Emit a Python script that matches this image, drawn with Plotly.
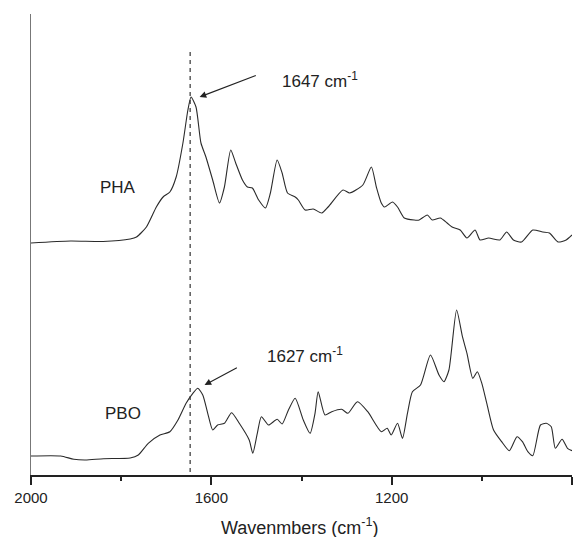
import plotly.graph_objects as go

# PHA spectrum (upper trace) – wavenumber (cm-1) and intensity (a.u.)
pha_wn = [2000, 1912, 1840, 1780, 1766, 1744, 1722, 1707, 1692, 1678, 1663, 1652, 1645,
          1634, 1623, 1612, 1597, 1582, 1571, 1557, 1546, 1531, 1520, 1509, 1495, 1480,
          1469, 1454, 1443, 1431, 1414, 1407, 1392, 1374, 1355, 1341, 1308, 1293, 1264,
          1245, 1234, 1223, 1216, 1198, 1187, 1172, 1150, 1139, 1121, 1110, 1092, 1077,
          1066, 1048, 1033, 1015, 1004, 985, 960, 945, 930, 912, 887, 865, 850, 831, 813, 800]
pha_int = [232, 234, 233.5, 236, 238, 248, 268, 278, 283, 298, 332, 365, 378,
           368, 332, 318, 295, 272, 288, 325, 312, 295, 288, 287, 275, 267,
           282, 315, 302, 282, 278, 275, 265, 266, 262, 268, 285, 282, 290,
           308, 288, 272, 268, 273, 268, 257, 255, 255, 260, 255, 257, 252,
           248, 245, 237, 245, 235, 237, 235, 243, 235, 233, 245, 243, 242, 233, 235, 240]

# PBO spectrum (lower trace)
pbo_wn = [2000, 1934, 1905, 1879, 1839, 1780, 1762, 1740, 1714, 1692, 1674, 1656, 1641,
          1630, 1619, 1608, 1597, 1586, 1571, 1555, 1538, 1516, 1508, 1498, 1489, 1473,
          1454, 1443, 1429, 1414, 1396, 1381, 1370, 1363, 1348, 1333, 1311, 1297, 1276,
          1253, 1223, 1210, 1201, 1187, 1176, 1165, 1154, 1136, 1114, 1095, 1084, 1073,
          1056, 1043, 1033, 1020, 1010, 1000, 989, 974, 956, 939, 922, 910, 898, 887,
          870, 857, 846, 837, 822, 810, 800]
pbo_int = [19, 19, 15.7, 15, 16.3, 17, 20, 31.7, 40, 43.3, 55, 71.7, 81.7,
           86.7, 80, 61.7, 45, 50, 51.7, 62.3, 51.7, 35, 21.7, 41.7, 58.3, 50,
           55.7, 51, 65, 76.7, 55, 41.7, 61.7, 83.3, 60, 63.3, 65.7, 61.7, 73.3,
           63.3, 43.3, 46.7, 40, 51.7, 36.7, 61.7, 83.3, 90, 120, 100, 93.3, 105,
           165, 138.3, 121.7, 96.7, 103.3, 91.7, 71.7, 45, 33.3, 24.3, 38.3, 33.3, 23.3, 19.3,
           50, 51.7, 48.3, 26.7, 35.7, 26.7, 24.3]

tick_vals = [2000, 1600, 1200, 800]
tick_text = ["2000", "1600", "1200", "800"]
minor_vals = [1800, 1400, 1000]
marker_wn = 1647

FONT = "Liberation Sans, Arial, sans-serif"
INK = "#222222"

fig = go.Figure()
fig.add_trace(go.Scatter(x=pha_wn, y=pha_int, mode="lines",
                         line=dict(color="#2a2a2a", width=1.1, shape="spline", smoothing=0.6),
                         showlegend=False, hoverinfo="skip"))
fig.add_trace(go.Scatter(x=pbo_wn, y=pbo_int, mode="lines",
                         line=dict(color="#2a2a2a", width=1.1, shape="spline", smoothing=0.6),
                         showlegend=False, hoverinfo="skip"))

fig.add_shape(type="line", xref="x", yref="y", x0=marker_wn, x1=marker_wn, y0=3, y1=426,
              line=dict(color="#333333", width=1.2, dash="4px,4px"))

ann_font = dict(family=FONT, size=17, color=INK)
fig.add_annotation(x=1626, y=378, ax=1498, ay=400, xref="x", yref="y", axref="x", ayref="y",
                   text="", showarrow=True, arrowhead=2, arrowsize=1.2, arrowwidth=1.1,
                   arrowcolor=INK)
fig.add_annotation(x=1615, y=90, ax=1540, ay=108, xref="x", yref="y", axref="x", ayref="y",
                   text="", showarrow=True, arrowhead=2, arrowsize=1.2, arrowwidth=1.1,
                   arrowcolor=INK)
fig.add_annotation(x=1448, y=395, xref="x", yref="y", text="1647 cm<sup>-1</sup>",
                   showarrow=False, xanchor="left", yanchor="middle", font=ann_font)
fig.add_annotation(x=1481, y=120, xref="x", yref="y", text="1627 cm<sup>-1</sup>",
                   showarrow=False, xanchor="left", yanchor="middle", font=ann_font)
fig.add_annotation(x=1806, y=288, xref="x", yref="y", text="PHA",
                   showarrow=False, xanchor="center", yanchor="middle",
                   font=dict(family=FONT, size=17, color=INK))
fig.add_annotation(x=1795, y=62, xref="x", yref="y", text="PBO",
                   showarrow=False, xanchor="center", yanchor="middle",
                   font=dict(family=FONT, size=17, color=INK))
fig.add_annotation(x=0.498, y=0, xref="paper", yref="paper", yshift=-51,
                   text="Wavenmbers (cm<sup>-1</sup>)", showarrow=False,
                   xanchor="center", yanchor="middle",
                   font=dict(family=FONT, size=18, color=INK))

# page body has an 8px default margin, so the figure is sized/offset to compensate
fig.update_layout(
    width=575, height=529,
    margin=dict(l=19, r=11, t=6, b=62),
    paper_bgcolor="white", plot_bgcolor="white",
    xaxis=dict(range=[2000, 800], showgrid=False, zeroline=False,
               showline=True, linecolor=INK, linewidth=2,
               ticks="outside", ticklen=8, tickwidth=2, tickcolor=INK,
               tickvals=tick_vals, ticktext=tick_text,
               tickfont=dict(family=FONT, size=15, color=INK),
               minor=dict(ticks="outside", ticklen=4, tickwidth=1.5, tickcolor=INK,
                          tickvals=minor_vals)),
    yaxis=dict(range=[0, 461], showgrid=False, zeroline=False,
               showline=True, linecolor="#777777", linewidth=1,
               showticklabels=False, ticks=""),
)

fig.write_html("out.html")
